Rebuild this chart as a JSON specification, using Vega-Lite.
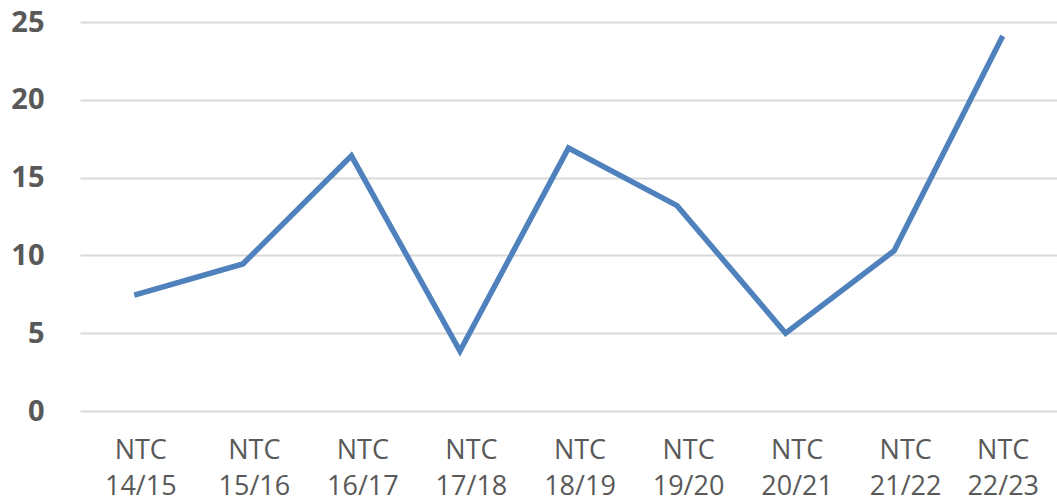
{
  "$schema": "https://vega.github.io/schema/vega-lite/v6.json",
  "width": 977,
  "height": 389,
  "autosize": {"type": "none"},
  "padding": {"left": 80, "top": 22, "right": 0, "bottom": 93},
  "background": "white",
  "config": {"view": {"stroke": null}},
  "data": {
    "values": [
      {"season": "NTC 14/15", "value": 7.45},
      {"season": "NTC 15/16", "value": 9.45},
      {"season": "NTC 16/17", "value": 16.4},
      {"season": "NTC 17/18", "value": 3.85},
      {"season": "NTC 18/19", "value": 16.9},
      {"season": "NTC 19/20", "value": 13.2},
      {"season": "NTC 20/21", "value": 5.0},
      {"season": "NTC 21/22", "value": 10.3},
      {"season": "NTC 22/23", "value": 24.1}
    ]
  },
  "mark": {"type": "line", "color": "#4f81bd", "strokeWidth": 5.5},
  "encoding": {
    "x": {
      "field": "season",
      "type": "nominal",
      "sort": null,
      "scale": {"type": "point", "padding": 0.5},
      "axis": {
        "title": null,
        "domain": false,
        "ticks": false,
        "grid": false,
        "labelAngle": 0,
        "labelExpr": "split(datum.label, ' ')",
        "labelFont": "Open Sans",
        "labelFontSize": 27,
        "labelColor": "#595959",
        "labelPadding": 26,
        "labelLineHeight": 36,
        "labelBaseline": "top",
        "labelOffset": {
          "condition": [
            {"test": "datum.value === 'NTC 22/23'", "value": 0},
            {"test": "datum.value === 'NTC 14/15'", "value": 6}
          ],
          "value": 11
        }
      }
    },
    "y": {
      "field": "value",
      "type": "quantitative",
      "scale": {"domain": [0, 25], "nice": false},
      "axis": {
        "title": null,
        "values": [0, 5, 10, 15, 20, 25],
        "domain": false,
        "ticks": false,
        "grid": true,
        "gridColor": "#d9d9d9",
        "gridWidth": 2,
        "labelFont": "Open Sans",
        "labelFontWeight": "bold",
        "labelFontSize": 29,
        "labelColor": "#595959",
        "labelPadding": 36
      }
    }
  }
}
